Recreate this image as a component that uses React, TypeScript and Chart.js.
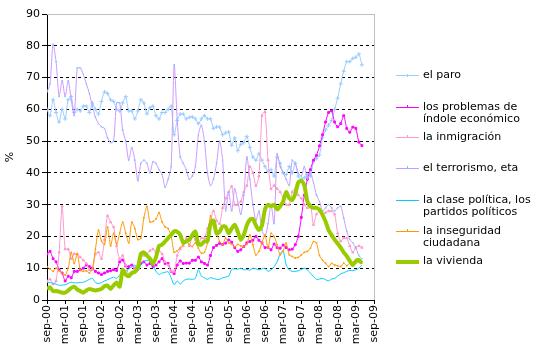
import React, { useEffect, useRef } from "react";
import { Chart, registerables } from "chart.js";

Chart.register(...registerables);

// x positions are month indexes: 0 = sep-00, 1 = oct-00, ... 104 = may-09
const tickLabels = [
  "sep-00", "mar-01", "sep-01", "mar-02", "sep-02", "mar-03", "sep-03", "mar-04", "sep-04", "mar-05",
  "sep-05", "mar-06", "sep-06", "mar-07", "sep-07", "mar-08", "sep-08", "mar-09", "sep-09",
];

const seriesNames = [
  "el paro",
  "los problemas de índole económico",
  "la inmigración",
  "el terrorismo, eta",
  "la clase política, los partidos políticos",
  "la inseguridad ciudadana",
  "la vivienda",
];

const legendLines = [
  ["el paro"],
  ["los problemas de", "índole económico"],
  ["la inmigración"],
  ["el terrorismo, eta"],
  ["la clase política, los", "partidos políticos"],
  ["la inseguridad", "ciudadana"],
  ["la vivienda"],
];

const paro = [
  60, 58, 63, 59, 56, 60, 57, 63, 64, 59, 60, 59.5,
  61, 61, 59, 62, 60, 58.5, 62.5, 65.5, 65, 63, 62.5, 60,
  59.5, 62, 64, 59.5, 59.5, 57, 59.5, 63, 62, 58.6, 60.5, 61,
  58, 57, 59, 59, 60, 61, 52, 56.5, 58.5, 58.5, 57, 57.5,
  57.6, 57, 55.5, 57, 58, 57, 57, 54, 54.5, 54.4, 52, 52.6,
  52.9, 48.7, 51, 47, 49, 49.5, 51.5, 48, 45, 44, 46, 44,
  42, 40.5, 41, 39, 45, 43, 40, 39.5, 42, 40, 43, 39,
  38, 38.5, 39.5, 39, 43.5, 44.5, 45.6, 51, 53.5, 55, 56.5, 60,
  63.5, 68, 72, 75, 75, 76, 76.4, 77.4, 74,
];

const economia = [
  14.5, 15.3, 13, 12, 9.5, 8.5, 6, 7.5, 7, 9, 9, 9.5,
  10, 11, 10.5, 10, 9, 8.5, 8, 8.5, 9, 9.2, 9.5, 9.3,
  12, 12.6, 10.7, 10.5, 11, 10, 10, 11.5, 12, 11, 11.5, 10.5,
  11, 12, 13, 11.5, 11.5, 9, 8.3, 11, 12.3, 11.5, 11.6, 11.6,
  12.5, 12.5, 13.5, 12, 11.5, 11, 14, 16.5, 17.2, 17.8, 17.5, 17.9,
  18.9, 18.2, 16.5, 15.3, 15.8, 16.8, 18, 18.4, 18.8, 20, 18.8, 18,
  16.5, 16.5, 15.8, 17.6, 16.5, 16.3, 17.3, 16.5, 15.8, 16, 17.4, 20,
  26, 33, 38, 41, 44, 45.5, 48.5, 52, 56, 59, 59.5, 56,
  54.5, 55.5, 58, 54, 52.8, 54.4, 54, 49.7, 48.6,
];

const inmigracion = [
  6, 6.5, 5, 6, 15, 29.5, 16, 16, 13, 14.5, 14.5, 13.5,
  12.5, 11.5, 9.5, 9.5, 14.5, 15, 13, 19, 26.5, 24.5, 23, 17,
  13, 14, 11, 8, 8.5, 10, 11, 14, 14, 14.5, 15.5, 16,
  15, 15.5, 14.5, 12, 11, 9, 9, 14, 16, 17, 19.5, 17,
  20, 19, 17.5, 19.5, 19.5, 22.5, 25, 28, 25, 24, 29, 32,
  34, 35.8, 30, 30, 31, 34, 36, 42, 40, 36, 39, 58,
  59.2, 44, 35, 36, 35, 34, 32, 30, 30, 34, 35, 33,
  32, 30, 29, 30, 23.7, 27, 28, 27, 27.5, 28, 28, 27,
  21, 18.5, 19.5, 19.5, 17, 15, 16.5, 17, 16.5,
];

const terrorismo = [
  65.5, 68, 80.5, 75, 64, 69, 64, 69, 63, 58, 73, 73,
  71, 68, 65, 61, 57.5, 55.5, 54.5, 54, 51, 49.5, 50, 62,
  62, 53.5, 50, 44, 48, 44, 37.5, 43, 44, 43, 40, 43.5,
  43, 41, 39.5, 35.5, 38, 42, 74, 57, 45, 43, 41, 38,
  39, 42, 52, 55, 50, 40, 36, 38, 43, 50, 44, 28,
  34, 28, 35, 31, 27, 33, 45, 38, 30, 25, 28, 22,
  20, 24, 30, 24, 46, 42, 40, 38, 36, 44, 43, 40,
  39, 42, 38, 40, 37, 33, 31, 28, 29, 30, 29, 28,
  29, 29.5, 25.8, 21.6, 19, 18, 16.3, 14, 13,
];

const clasePolitica = [
  5.5, 5.5, 5.2, 5, 4.6, 4.7, 4.8, 5.2, 5.6, 5.4, 5.4, 5.5,
  5.6, 6, 6.5, 6.8, 5.5, 5.2, 5.5, 6, 6.4, 6.8, 7.2, 6.8,
  7.8, 8.4, 9, 9.8, 10.5, 11, 9.2, 11, 12, 12.5, 12.2, 11,
  9, 8, 8.5, 8.7, 8.9, 7, 4.8, 6, 5, 6, 6.5, 6.6,
  6.5, 6.8, 9.5, 7.5, 7, 6.5, 7, 6.8, 6.5, 6.5, 7, 7.2,
  7.5, 9.6, 9.8, 9.7, 10, 9.5, 9.6, 9.4, 10, 9.8, 9.5, 9.8,
  10, 9, 9.5, 10.5, 12, 14.5, 15.5, 11, 9.5, 9, 9, 9.2,
  9.6, 10, 9.5, 8.4, 7.4, 6.5, 6.6, 6.8, 6.4, 6, 6.6, 6.8,
  7.5, 8.2, 8.6, 9, 9.3, 9.2, 9.5, 10, 11,
];

const inseguridad = [
  10.5, 9.8, 9, 10, 9.2, 8.4, 7.9, 10, 15, 11.5, 14.5, 9.5,
  9, 9.2, 8.5, 10, 16, 22, 18.5, 17.5, 23, 17, 21, 17.5,
  21, 24.5, 21, 18, 24.5, 22.5, 19, 19.5, 25.9, 29.4, 24.6, 24.7,
  25.5, 27.5, 24.6, 23, 22.5, 20, 15, 15.5, 16.5, 17.5, 18.4, 17.5,
  16.8, 18, 16.3, 14.7, 15, 17.9, 26.5, 23, 21, 18.4, 17.4, 19.5,
  18, 17.5, 16.8, 17.5, 17, 16.8, 17.5, 20.5, 17.4, 14.2, 15.3, 18,
  20.5, 16.3, 21, 20, 17.4, 14.2, 15.5, 17.9, 14.2, 13.7, 13.2, 13.4,
  14.2, 15, 15.3, 16.3, 18.4, 18, 14, 12.5, 11.6, 10.5, 11.5, 11,
  10.8, 10.5, 11.6, 10.8, 11.6, 11.5, 11.6, 12, 11.6,
];

const vivienda = [
  3.5, 4, 2.8, 2.8, 2.6, 2.3, 2.3, 3, 3.8, 4.2, 3.3, 2.8,
  2.3, 3, 3.5, 3.2, 3, 3.2, 3.5, 4.3, 4.5, 3.5, 4.6, 5.5,
  4.2, 9.5, 8, 7.5, 8.5, 8.8, 10, 14.5, 15, 14, 13, 11.5,
  13.5, 17, 17.4, 18.4, 19.5, 20.5, 21.6, 21.5, 20.5, 18, 18.5, 19,
  20.5, 21.5, 17.5, 17.5, 18.5, 18.5, 24, 25, 21, 21.5, 23.2, 23,
  21, 22.5, 23.7, 21.5, 19, 20.5, 23.5, 25.3, 25.5, 23.5, 22, 23.5,
  28.5, 30, 29.5, 30, 28.5, 29.5, 31, 34, 32, 31.5, 33.5, 37,
  37.5, 36, 31, 29.5, 29, 29, 28.4, 26.8, 24.7, 22, 20.5, 19,
  17.8, 16.5, 15, 13.8, 12.3, 11, 12.3, 12.6, 11.6,
];

const seriesValues = [paro, economia, inmigracion, terrorismo, clasePolitica, inseguridad, vivienda];

const seriesStyles = [
  { color: "#99CCFF", width: 1, marker: "cross", radius: 2, markerColor: "#99CCFF" },
  { color: "#FF00FF", width: 1, marker: "rect", radius: 1.3, markerColor: "#FF00FF" },
  { color: "#FF99CC", width: 1, marker: "triangle", radius: 1.3, markerColor: "#FF99CC" },
  { color: "#CC99FF", width: 1, marker: "crossRot", radius: 0.8, markerColor: "#66CCFF" },
  { color: "#00CCFF", width: 1, marker: "circle", radius: 0, markerColor: "#00CCFF" },
  { color: "#FF9900", width: 1, marker: "cross", radius: 0.8, markerColor: "#FF9900" },
  { color: "#99CC00", width: 4, marker: "circle", radius: 0, markerColor: "#99CC00" },
];

const FONT = '"DejaVu Sans", Verdana, sans-serif';

const legendY = [75.5, 107, 137, 168, 200.5, 231, 261.5];

const sideLegend = {
  id: "sideLegend",
  beforeDatasetsDraw(chart: any) {
    const { ctx, chartArea: a } = chart;
    ctx.save();
    ctx.fillStyle = "#C0C0C0";
    ctx.fillRect(Math.floor(a.left), Math.floor(a.top), Math.floor(a.right) - Math.floor(a.left) + 1, 1);
    ctx.fillRect(Math.floor(a.right), Math.floor(a.top), 1, Math.floor(a.bottom) - Math.floor(a.top));
    ctx.restore();
  },
  afterDraw(chart: any) {
    const { ctx } = chart;
    ctx.save();
    ctx.font = "11px " + FONT;
    ctx.textBaseline = "middle";
    ctx.textAlign = "left";
    legendLines.forEach((lines, i) => {
      const st = seriesStyles[i];
      const y = legendY[i];
      ctx.fillStyle = st.color;
      ctx.fillRect(396, Math.round(y - st.width / 2), 23, st.width);
      if (st.radius > 0) {
        ctx.fillStyle = st.markerColor;
        ctx.fillRect(407, Math.round(y) - 2, 1, 3);
      }
      ctx.fillStyle = "#000";
      lines.forEach((t, j) => {
        ctx.fillText(t, 423, y + j * 12);
      });
    });
    ctx.restore();
  },
};

export default function App() {
  const canvasRef = useRef<HTMLCanvasElement | null>(null);

  useEffect(() => {
    if (!canvasRef.current) return;
    const datasets = seriesValues.map((vals, i) => {
      const st = seriesStyles[i];
      return {
        label: seriesNames[i],
        data: vals.map((v, m) => ({ x: m, y: v })),
        borderColor: st.color,
        backgroundColor: st.markerColor,
        borderWidth: st.width,
        pointStyle: st.marker as any,
        pointRadius: st.radius,
        pointBorderColor: st.markerColor,
        pointBackgroundColor: st.markerColor,
        pointBorderWidth: 1,
        pointHoverRadius: 0,
        tension: 0.25,
        fill: false,
        order: 7 - i,
      };
    });

    const chart = new Chart(canvasRef.current, {
      type: "line",
      data: { datasets },
      plugins: [sideLegend],
      options: {
        animation: false,
        responsive: false,
        devicePixelRatio: 1,
        events: [],
        layout: { padding: { left: 0, top: 14, right: 161, bottom: 0 } },
        plugins: {
          legend: { display: false },
          tooltip: { enabled: false },
        },
        scales: {
          x: {
            type: "linear",
            min: 0,
            max: 108,
            afterFit: (scale: any) => {
              scale.height = 61;
            },
            border: { display: true, color: "#000", width: 1 },
            grid: {
              drawOnChartArea: false,
              drawTicks: true,
              tickLength: 4,
              tickColor: "#000",
              color: "#000",
            },
            ticks: {
              stepSize: 6,
              autoSkip: false,
              maxRotation: 90,
              minRotation: 90,
              padding: 1,
              color: "#000",
              font: { family: FONT, size: 11 },
              callback: (value: any) => tickLabels[Math.round(Number(value) / 6)] ?? "",
            },
          },
          y: {
            type: "linear",
            min: 0,
            max: 90,
            afterFit: (scale: any) => {
              scale.width = 47;
            },
            border: { display: true, color: "#000", width: 1, dash: [3, 3] },
            title: {
              display: true,
              text: "%",
              color: "#000",
              font: { family: FONT, size: 11 },
              padding: { top: 4, bottom: 0 },
            },
            grid: {
              drawOnChartArea: true,
              drawTicks: true,
              tickLength: 5,
              tickColor: "#000",
              tickBorderDash: [],
              color: (c: any) => {
                const v = c.tick ? Number(c.tick.value) : NaN;
                return Math.abs(v - 90) < 0.01 || Math.abs(v) < 0.01 ? "rgba(0,0,0,0)" : "#000";
              },
            } as any,
            ticks: {
              stepSize: 10,
              padding: 2,
              color: "#000",
              font: { family: FONT, size: 11 },
            },
          },
        },
      } as any,
    });
    return () => chart.destroy();
  }, []);

  return (
    <div style={{ position: "fixed", left: 0, top: 0, width: 535, height: 361, background: "#fff" }}>
      <canvas ref={canvasRef} width={535} height={361} style={{ display: "block" }} />
    </div>
  );
}
